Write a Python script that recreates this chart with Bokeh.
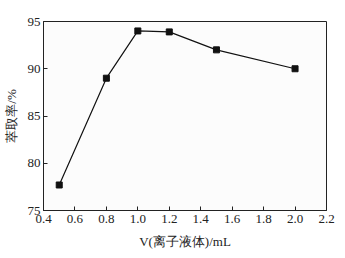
from bokeh.plotting import figure
from bokeh.embed import file_html
from bokeh.resources import INLINE
from bokeh.models import Range1d, FixedTicker

volume_ml = [0.5, 0.8, 1.0, 1.2, 1.5, 2.0]
extraction_rate = [77.7, 89.0, 94.0, 93.9, 92.0, 90.0]
x_ticks = [0.4, 0.6, 0.8, 1.0, 1.2, 1.4, 1.6, 1.8, 2.0, 2.2]
y_ticks = [75, 80, 85, 90, 95]

p = figure(width=345, height=258, output_backend="svg", toolbar_location=None,
           x_range=Range1d(0.4, 2.2), y_range=Range1d(75, 95),
           min_border_left=42, min_border_right=19, min_border_top=21, min_border_bottom=48)
p.background_fill_color = "#fcfcfc"
p.border_fill_color = "white"
p.outline_line_color = "#222222"
p.outline_line_width = 1
p.xgrid.visible = False
p.ygrid.visible = False

for ax in (p.xaxis, p.yaxis):
    ax.major_tick_in = 4
    ax.major_tick_out = 0
    ax.minor_tick_line_color = None
    ax.axis_line_color = "#222222"
    ax.major_tick_line_color = "#222222"
    ax.major_label_text_font = "Liberation Serif"
    ax.major_label_text_font_size = "13px"
    ax.major_label_text_color = "#222222"
    ax.axis_label_text_font = "Liberation Serif"
    ax.axis_label_text_font_size = "13px"
    ax.axis_label_text_font_style = "normal"
    ax.axis_label_text_color = "#222222"

p.xaxis.ticker = FixedTicker(ticks=x_ticks)
p.yaxis.ticker = FixedTicker(ticks=y_ticks)
p.xaxis.major_label_overrides = {t: f"{t:.1f}" for t in x_ticks}
p.xaxis.axis_label = "V(离子液体)/mL"
p.yaxis.axis_label = "萃取率/%"
p.xaxis.major_label_standoff = 4
p.yaxis.major_label_standoff = 3
p.xaxis.axis_label_standoff = 8
p.yaxis.axis_label_standoff = 6

p.line(volume_ml, extraction_rate, line_color="#111111", line_width=1.2)
p.scatter(volume_ml, extraction_rate, marker="square", size=6, color="#111111")

open("out.html", "w").write(file_html(p, INLINE))
